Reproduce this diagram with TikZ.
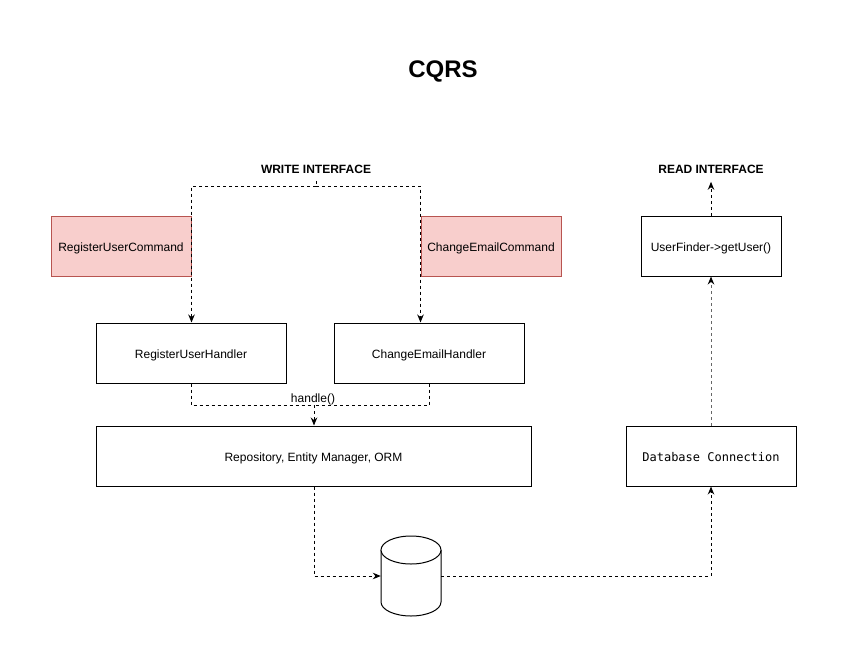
\documentclass[tikz,border=0pt]{standalone}
\usepackage{fontspec}
\setmainfont{Liberation Sans}
\newfontfamily\dbmono{DejaVu Sans Mono}
\usepackage{tikz}
\usetikzlibrary{arrows.meta, positioning, calc}
\usepackage{xcolor}
\definecolor{cmdfill}{HTML}{F8CECC}
\definecolor{cmdline}{HTML}{B85450}

\begin{document}
\begin{tikzpicture}[x=1pt, y=-1pt,
        font=\fontsize{12}{14}\selectfont,
        box/.style={draw, line width=1pt, fill=white, minimum width=#1, minimum height=60pt, inner sep=0pt, text height=10pt, text depth=0pt},
        cmdbox/.style={draw=cmdline, line width=1pt, fill=cmdfill, minimum width=140pt, minimum height=60pt, inner sep=0pt, text height=10pt, text depth=0pt},
        flow/.style={draw, line width=1pt, dash pattern=on 3pt off 3pt, -{Stealth[length=8pt, width=6.5pt]}},
        plain/.style={draw, line width=1pt, dash pattern=on 3pt off 3pt}]
        \useasboundingbox (0,0) rectangle (846,667);

        % Titles
        \node (title) at (443,71) {\fontsize{24}{28}\selectfont\bfseries CQRS};
        \node (write) at (316,169) {\bfseries WRITE INTERFACE};
        \node (read) at (711,169) {\bfseries READ INTERFACE};

        % Commands
        \node[cmdbox] (regcmd) at (121,246) {RegisterUserCommand};
        \node[cmdbox] (mailcmd) at (491,246) {ChangeEmailCommand};

        % Handlers
        \node[box=190pt] (reghandler) at (191,353) {RegisterUserHandler};
        \node[box=190pt] (mailhandler) at (429,353) {ChangeEmailHandler};

        % Storage side
        \node[box=435pt] (repo) at (313.5,456) {Repository, Entity Manager, ORM};
        \node[box=170pt] (dbconn) at (711,456) {\dbmono Database Connection};
        \node[box=140pt] (finder) at (711,246) {UserFinder->getUser()};

        % Database cylinder
        \node[minimum width=60pt, minimum height=80pt, inner sep=0pt] (db) at (411,576) {};
        \draw[line width=1pt, fill=white] (381,550) -- (381,602)
            arc[start angle=180, end angle=360, x radius=30pt, y radius=14pt] -- (441,550);
        \draw[line width=1pt, fill=white] (411,550) ellipse [x radius=30pt, y radius=14pt];

        % Write side connectors
        \coordinate (split) at (316,186);
        \draw[plain] ([yshift=-4pt]write.south) -- (split);
        \draw[flow] (split) -| (reghandler.north -| regcmd.east);
        \draw[flow] (split) -| (mailhandler.north -| mailcmd.west);
        \coordinate (join) at (314,405);
        \draw[plain] (reghandler.south) |- (join);
        \draw[plain] (mailhandler.south) |- (join);
        \draw[flow] (join) -- (join |- repo.north);
        \node (handle) at (313,399) {handle()};

        % Read side connectors
        \draw[flow] (repo.south -| join) |- (db.west);
        \draw[flow] (db.east) -| (dbconn.south);
        \draw[flow, draw=black!60, -{Stealth[length=8pt, width=6.5pt, black]}] (dbconn.north) -- (finder.south);
        \draw[flow] (finder.north) -- ([yshift=-5pt]read.south);
    \end{tikzpicture}
\end{document}
